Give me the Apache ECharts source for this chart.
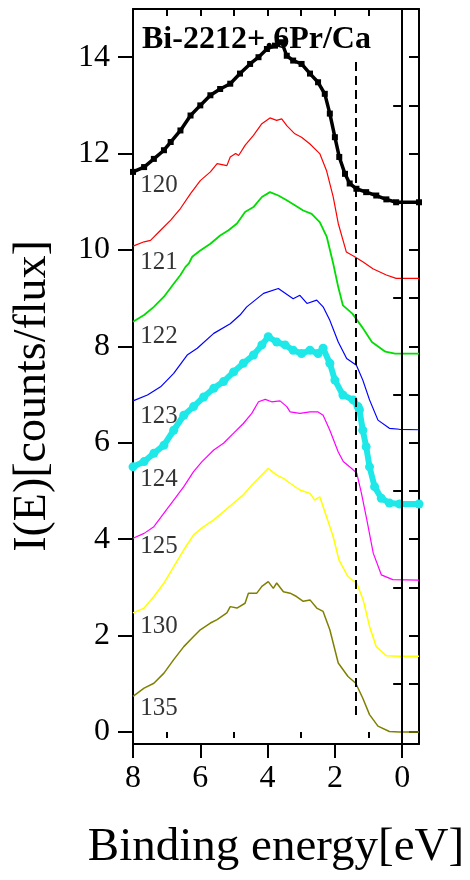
<!DOCTYPE html>
<html>
<head>
<meta charset="utf-8">
<script src="https://cdn.jsdelivr.net/npm/echarts@6/dist/echarts.min.js"></script>
<style>html,body{margin:0;padding:0;background:#fff;}#c{width:470px;height:880px;}</style>
</head>
<body>
<div id="c"></div>
<script>
// ---- data ----
const e120 = [8.0, 7.67, 7.38, 7.08, 6.88, 6.59, 6.29, 6.0, 5.70, 5.41, 5.11, 4.82, 4.52, 4.27, 4.02, 3.78, 3.58, 3.43, 3.24, 2.99, 2.74, 2.50, 2.30, 2.15, 2.0, 1.87, 1.70, 1.56, 1.36, 1.07, 0.77, 0.47, 0.18, -0.5];
const i120 = [11.62, 11.72, 11.89, 12.07, 12.24, 12.48, 12.79, 13.0, 13.21, 13.34, 13.45, 13.66, 13.86, 14.0, 14.17, 14.24, 14.31, 14.03, 13.93, 13.86, 13.66, 13.48, 13.24, 12.83, 12.34, 11.93, 11.58, 11.38, 11.27, 11.20, 11.13, 11.05, 10.99, 10.99];

const e121 = [8.0, 7.67, 7.48, 7.18, 6.88, 6.59, 6.29, 6.0, 5.70, 5.50, 5.21, 5.11, 4.95, 4.86, 4.67, 4.42, 4.17, 3.93, 3.73, 3.58, 3.43, 3.19, 2.99, 2.74, 2.45, 2.25, 2.05, 1.90, 1.66, 1.41, 1.16, 0.87, 0.47, 0.18, -0.5];
const i121 = [10.08, 10.17, 10.20, 10.41, 10.62, 10.86, 11.17, 11.44, 11.62, 11.79, 11.75, 11.93, 12.0, 11.96, 12.17, 12.38, 12.62, 12.74, 12.69, 12.72, 12.58, 12.41, 12.34, 12.20, 12.0, 11.65, 11.10, 10.55, 9.96, 9.86, 9.75, 9.61, 9.48, 9.41, 9.41];

const e122 = [8.0, 7.67, 7.38, 7.08, 6.79, 6.59, 6.44, 6.34, 6.24, 6.0, 5.70, 5.41, 5.16, 4.91, 4.67, 4.42, 4.17, 3.93, 3.68, 3.43, 3.19, 2.94, 2.69, 2.45, 2.24, 2.05, 1.90, 1.76, 1.48, 1.19, 0.90, 0.50, 0.21, -0.5];
const i122 = [8.51, 8.65, 8.82, 9.03, 9.30, 9.48, 9.65, 9.72, 9.86, 9.99, 10.13, 10.30, 10.41, 10.55, 10.79, 10.89, 11.10, 11.20, 11.13, 11.03, 10.93, 10.82, 10.75, 10.58, 10.27, 9.72, 9.23, 8.85, 8.68, 8.40, 8.09, 7.89, 7.85, 7.85];

const e123 = [8.0, 7.57, 7.18, 6.79, 6.39, 6.09, 5.60, 5.11, 4.82, 4.62, 4.12, 3.68, 3.24, 3.04, 2.83, 2.54, 2.35, 2.15, 1.90, 1.65, 1.36, 1.17, 0.97, 0.72, 0.38, 0.08, -0.5];
const i123 = [6.87, 6.99, 7.16, 7.44, 7.82, 7.96, 8.27, 8.47, 8.65, 8.82, 9.10, 9.20, 8.99, 9.06, 8.89, 8.96, 8.82, 8.54, 8.09, 7.75, 7.61, 7.30, 6.89, 6.47, 6.30, 6.28, 6.27];

const e124 = [8.0, 7.67, 7.38, 7.08, 6.79, 6.49, 6.20, 5.90, 5.60, 5.31, 5.01, 4.72, 4.42, 4.17, 3.98, 3.73, 3.48, 3.24, 2.99, 2.74, 2.50, 2.35, 2.15, 2.0, 1.76, 1.46, 1.31, 1.27, 1.17, 1.07, 0.97, 0.82, 0.62, 0.38, 0.08, -0.5];
const i124 = [5.50, 5.61, 5.78, 5.95, 6.26, 6.57, 6.75, 6.95, 7.13, 7.27, 7.47, 7.65, 7.82, 8.03, 8.20, 8.09, 8.03, 7.92, 7.85, 7.92, 7.85, 7.96, 7.65, 7.30, 6.99, 6.89, 6.75, 6.68, 6.26, 5.92, 5.50, 5.09, 4.85, 4.75, 4.73, 4.73];

const e125 = [8.0, 7.67, 7.38, 7.08, 6.79, 6.49, 6.20, 5.95, 5.60, 5.31, 5.01, 4.72, 4.47, 4.27, 4.07, 3.88, 3.63, 3.43, 3.33, 3.04, 2.74, 2.50, 2.35, 2.15, 1.90, 1.75, 1.51, 1.35, 1.21, 1.05, 0.86, 0.62, 0.28, -0.5];
const i125 = [4.02, 4.12, 4.26, 4.54, 4.81, 5.09, 5.40, 5.61, 5.85, 5.99, 6.20, 6.40, 6.61, 6.85, 6.90, 6.85, 6.87, 6.75, 6.64, 6.61, 6.64, 6.64, 6.57, 6.26, 5.81, 5.61, 5.47, 5.37, 4.95, 4.40, 3.71, 3.26, 3.16, 3.15];

const e130 = [8.0, 7.67, 7.38, 7.08, 6.79, 6.49, 6.20, 5.90, 5.60, 5.31, 5.01, 4.72, 4.47, 4.22, 3.98, 3.73, 3.53, 3.33, 3.04, 2.74, 2.60, 2.45, 2.25, 2.05, 1.88, 1.61, 1.35, 1.16, 0.97, 0.77, 0.47, 0.08, -0.5];
const i130 = [2.47, 2.57, 2.81, 3.09, 3.43, 3.78, 4.09, 4.26, 4.40, 4.57, 4.75, 4.92, 5.12, 5.30, 5.47, 5.33, 5.26, 5.16, 5.02, 4.95, 4.81, 4.88, 4.47, 4.05, 3.57, 3.22, 3.09, 2.74, 2.19, 1.77, 1.58, 1.57, 1.57];

const e135 = [8.0, 7.67, 7.38, 7.08, 6.79, 6.49, 6.20, 6.0, 5.70, 5.50, 5.21, 5.11, 4.91, 4.67, 4.57, 4.32, 4.17, 3.98, 3.83, 3.73, 3.53, 3.33, 3.14, 2.94, 2.74, 2.54, 2.35, 2.15, 1.90, 1.61, 1.38, 1.17, 0.97, 0.72, 0.38, 0.08, -0.5];
const i135 = [0.74, 0.91, 1.01, 1.22, 1.50, 1.77, 1.98, 2.12, 2.26, 2.33, 2.47, 2.60, 2.57, 2.67, 2.88, 2.88, 3.02, 3.12, 2.98, 3.09, 2.91, 2.88, 2.81, 2.71, 2.74, 2.57, 2.50, 2.12, 1.43, 1.15, 1.01, 0.70, 0.36, 0.12, 0.01, 0.0, 0.0];

const seriesNames = ['120', '121', '122', '123', '124', '125', '130', '135'];
const labelE = [7.80, 7.80, 7.80, 7.80, 7.80, 7.80, 7.80, 7.80];
const labelI = [11.34, 9.74, 8.21, 6.55, 5.23, 3.84, 2.18, 0.48];

const xMajorTicks = [0, 2, 4, 6, 8];
const xMinorTicks = [1, 3, 5, 7];
const xTopTicks = [1, 2, 3, 4, 5, 6, 7];
const yMajorTicks = [0, 2, 4, 6, 8, 10, 12, 14];
const yMinorTicks = [1, 3, 5, 7, 9, 11, 13];
const yRightTicks = [0, 1, 2, 3, 4, 5, 6, 7, 8, 9, 10, 11, 12, 13, 14];

const fermiE = 0;
const dashE = 1.38;
const dashFrom = 0.35;
const dashTo = 13.9;

const titleText = 'Bi-2212+.6Pr/Ca';
const xTitle = 'Binding energy[eV]';
const yTitle = 'I(E)[counts/flux]';

// ---- chart ----
const FONT = '"Liberation Serif", "Times New Roman", serif';
const pair = (es, is) => es.map((e, k) => [e, is[k]]);

const chart = echarts.init(document.getElementById('c'), null, {renderer: 'canvas'});

const X = {min: -0.5, max: 8, inverse: true, type: 'value'};
const Y = {min: -0.25, max: 15, type: 'value'};
const lineAx = {show: true, onZero: false, lineStyle: {color: '#000', width: 2}};

function curve(name, es, is, color, width, extra) {
  return Object.assign({
    name: name, type: 'line', data: pair(es, is),
    showSymbol: false, symbol: 'none', smooth: false,
    lineStyle: {color: color, width: width}, itemStyle: {color: color},
    z: 3, animation: false, silent: true
  }, extra || {});
}

const option = {
  animation: false,
  backgroundColor: '#fff',
  title: {
    text: titleText, left: 137, top: 19,
    textStyle: {fontFamily: FONT, fontSize: 32, fontWeight: 'bold', color: '#000'}
  },
  grid: {left: 133, right: 51, top: 9, bottom: 136, containLabel: false},
  xAxis: [
    Object.assign({}, X, {
      position: 'bottom', axisLine: lineAx,
      axisTick: {show: true, inside: false, length: 14, lineStyle: {color: '#000', width: 2}, customValues: xMajorTicks},
      axisLabel: {show: true, margin: 19, fontFamily: FONT, fontSize: 32, color: '#000', customValues: xMajorTicks},
      splitLine: {show: false},
      name: xTitle, nameLocation: 'middle', nameGap: 80,
      nameTextStyle: {fontFamily: FONT, fontSize: 47, color: '#000'}
    }),
    Object.assign({}, X, {
      position: 'bottom', axisLine: {show: false},
      axisTick: {show: true, inside: false, length: 6, lineStyle: {color: '#000', width: 2}, customValues: xMinorTicks},
      axisLabel: {show: false}, splitLine: {show: false}
    }),
    Object.assign({}, X, {
      position: 'top', axisLine: lineAx,
      axisTick: {show: true, inside: true, length: 7, lineStyle: {color: '#000', width: 2}, customValues: xTopTicks},
      axisLabel: {show: false}, splitLine: {show: false}
    })
  ],
  yAxis: [
    Object.assign({}, Y, {
      position: 'left', axisLine: lineAx,
      axisTick: {show: true, inside: false, length: 15, lineStyle: {color: '#000', width: 2}, customValues: yMajorTicks},
      axisLabel: {show: true, margin: 23, fontFamily: FONT, fontSize: 32, color: '#000', customValues: yMajorTicks},
      splitLine: {show: false}
    }),
    Object.assign({}, Y, {
      position: 'left', axisLine: {show: false},
      axisTick: {show: true, inside: false, length: 9, lineStyle: {color: '#000', width: 2}, customValues: yMinorTicks},
      axisLabel: {show: false}, splitLine: {show: false}
    }),
    Object.assign({}, Y, {
      position: 'right', axisLine: lineAx,
      axisTick: {show: true, inside: true, length: 10, lineStyle: {color: '#000', width: 2}, customValues: yRightTicks},
      axisLabel: {show: false}, splitLine: {show: false}
    })
  ],
  graphic: [{
    type: 'text', x: 33, y: 396, rotation: Math.PI / 2,
    style: {text: yTitle, fontFamily: FONT, fontSize: 46, fill: '#000', align: 'center', verticalAlign: 'middle'}
  }],
  series: [
    curve('135', e135, i135, '#808000', 1.5, {
      markLine: {
        silent: true, symbol: 'none', animation: false,
        label: {show: false},
        data: [
          [{coord: [fermiE, -0.25], lineStyle: {color: '#000', width: 2, type: 'solid'}},
           {coord: [fermiE, 15]}],
          [{coord: [dashE, dashFrom], lineStyle: {color: '#000', width: 2, type: [9, 5]}},
           {coord: [dashE, dashTo]}]
        ]
      }
    }),
    curve('130', e130, i130, '#ffff00', 1.5),
    curve('125', e125, i125, '#ff00ff', 1.2),
    curve('124', e124, i124, '#1ee8e8', 6, {showSymbol: true, symbol: 'circle', symbolSize: 9, z: 4}),
    curve('123', e123, i123, '#0000ff', 1.2),
    curve('122', e122, i122, '#00dd00', 1.8),
    curve('121', e121, i121, '#ff0000', 1.2),
    curve('120', e120, i120, '#000000', 3.5, {showSymbol: true, symbol: 'rect', symbolSize: 6, z: 4}),
    {
      type: 'scatter', silent: true, animation: false, z: 5,
      symbolSize: 1, itemStyle: {color: 'rgba(0,0,0,0)'},
      data: seriesNames.map((n, k) => [labelE[k], labelI[k], n]),
      label: {
        show: true, position: 'right', distance: 0,
        formatter: p => p.data[2],
        fontFamily: FONT, fontSize: 25, color: '#000'
      }
    }
  ]
};
chart.setOption(option);
</script>
</body>
</html>
